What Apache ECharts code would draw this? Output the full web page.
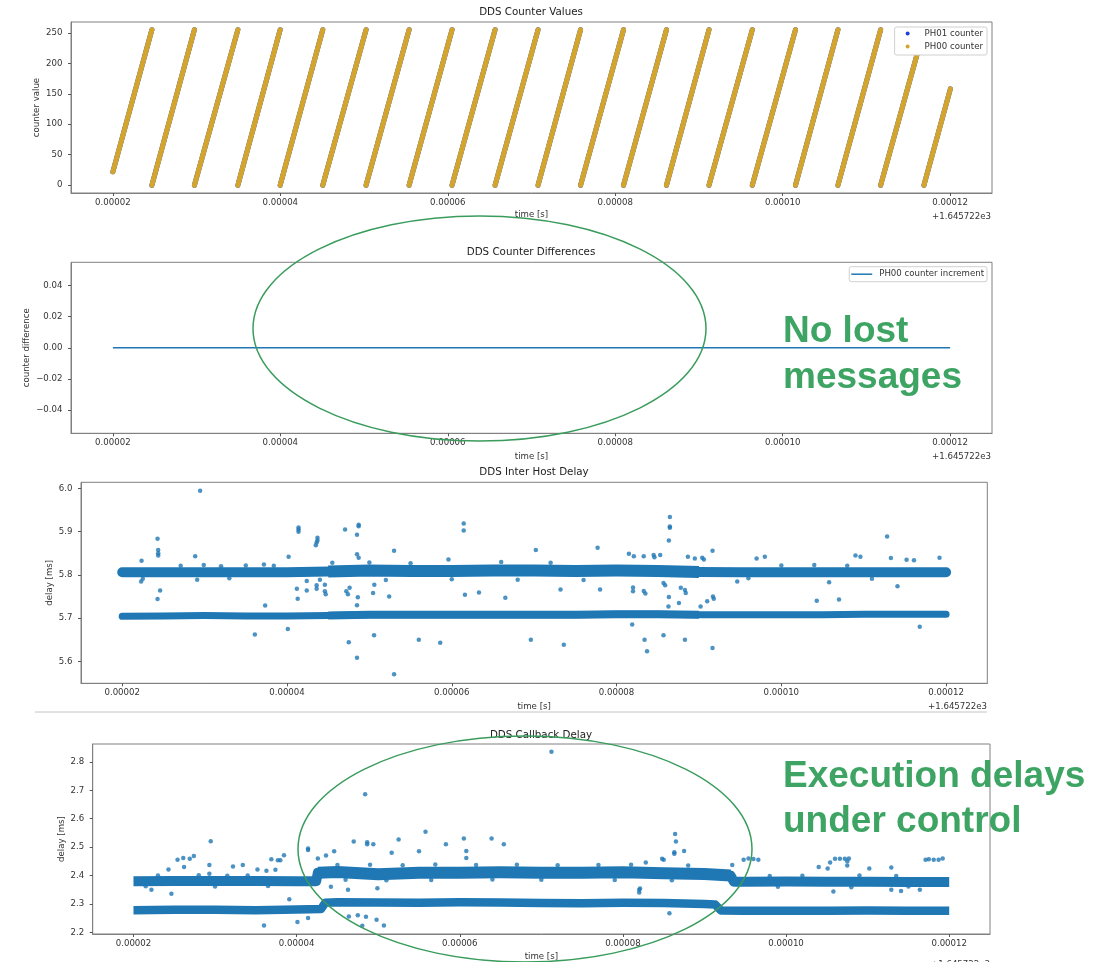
<!DOCTYPE html>
<html>
<head>
<meta charset="utf-8">
<script src="https://cdn.jsdelivr.net/npm/echarts@6/dist/echarts.min.js"></script>
<style>
  html, body { margin: 0; padding: 0; background: #ffffff; }
  #chart { width: 1102px; height: 962px; }
</style>
</head>
<body>
<div id="chart"></div>
<script>
// ---- data (time is the offset from 1.645722e3 s, stored in microseconds) ----
const xTicksUs = [20, 40, 60, 80, 100, 120];
const counterTicks = [0, 50, 100, 150, 200, 250];
const diffTicks = [-0.04, -0.02, 0, 0.02, 0.04];
const interHostTicks = [5.6, 5.7, 5.8, 5.9, 6.0];
const callbackTicks = [2.2, 2.3, 2.4, 2.5, 2.6, 2.7, 2.8];

// counter ramps (0..255 wrap-around)
const rampStartUs = [20.0, 24.66, 29.74, 34.93, 39.98, 45.07, 50.24, 55.38, 60.51, 65.65, 70.78, 75.86, 80.99, 86.12, 91.20, 96.37, 101.53, 106.60, 111.70, 116.87];
const rampEndUs   = [24.66, 29.74, 34.93, 39.98, 45.07, 50.24, 55.38, 60.51, 65.65, 70.78, 75.86, 80.99, 86.12, 91.20, 96.37, 101.53, 106.60, 111.70, 116.87, 120.03];
const rampStartCount = [22, 0, 0, 0, 0, 0, 0, 0, 0, 0, 0, 0, 0, 0, 0, 0, 0, 0, 0, 0];
const rampEndCount   = [255, 255, 255, 255, 255, 255, 255, 255, 255, 255, 255, 255, 255, 255, 255, 255, 255, 255, 255, 158];

// counter increment differences
const diffTimesUs = [20, 40, 60, 80, 100, 120];
const diffValues  = [0, 0, 0, 0, 0, 0];

// inter host delay: two dense bands + scattered samples
const ihBandT = [20, 25, 30, 35, 40, 45, 50, 55, 60, 65, 70, 75, 80, 85, 90, 95, 100, 105, 110, 115, 120];
const ihUpperV = [5.806, 5.806, 5.806, 5.806, 5.806, 5.808, 5.810, 5.809, 5.809, 5.810, 5.810, 5.809, 5.810, 5.809, 5.807, 5.806, 5.806, 5.806, 5.806, 5.806, 5.806];
const ihLowerV = [5.704, 5.705, 5.706, 5.705, 5.705, 5.706, 5.708, 5.708, 5.708, 5.708, 5.708, 5.708, 5.709, 5.709, 5.708, 5.708, 5.708, 5.708, 5.709, 5.709, 5.709];
const ihOutT = [29.46, 24.29, 24.37, 24.37, 24.37, 24.6, 24.29, 22.35, 22.3, 28.86, 29.1, 36.1, 37.35, 41.2, 40.1, 40.2, 41.4, 41.4, 41.4, 41.3, 42.4, 42.4, 43.7, 43.7, 43.6, 43.5, 43.6, 43.6, 44.6, 44.6, 44.7, 47.05, 47.5, 48.5, 48.7, 48.7, 48.5, 47.2, 47.4, 47.6, 48.5, 48.7, 48.6, 48.5, 50.45, 50.57, 53.0, 50.6, 52.4, 53.0,
  61.45, 61.45, 59.6, 70.2, 77.7, 56.0, 58.6, 73.6, 69.6, 63.3, 66.5, 73.2, 78.0, 61.6,
  86.47, 86.47, 86.47, 86.35, 112.84, 81.5, 82.1, 83.3, 84.5, 84.6, 85.3, 88.66, 89.5, 90.4, 90.6, 91.65, 98.0, 97.0, 109.0, 109.6, 113.3, 115.2, 116.1, 119.2, 105.8, 114.1, 94.65, 104.3, 107.0, 82.0, 82.0, 83.3, 83.5, 85.7, 85.9, 86.35, 87.8, 88.3, 88.4, 87.57, 91.0, 91.7, 91.8, 81.9, 83.4, 83.7, 85.7, 88.3, 91.65, 116.8, 90.2, 86.3,
  27.1, 29.9, 32.0, 35.0, 37.2, 38.4, 45.5, 50.0, 55.0, 66.0, 72.0, 100.0, 104.0, 108.0, 22.5, 33.0, 44.0, 52.0, 60.0, 68.0, 76.0, 96.0, 111.0];
const ihOutV = [5.995, 5.884, 5.858, 5.850, 5.845, 5.764, 5.744, 5.833, 5.785, 5.843, 5.789, 5.662, 5.729, 5.768, 5.675, 5.842, 5.905, 5.900, 5.910, 5.745, 5.786, 5.764, 5.886, 5.880, 5.875, 5.869, 5.776, 5.768, 5.777, 5.762, 5.755, 5.905, 5.644, 5.608, 5.916, 5.913, 5.893, 5.762, 5.755, 5.770, 5.848, 5.840, 5.748, 5.730, 5.758, 5.660, 5.570, 5.777, 5.750, 5.856,
  5.919, 5.903, 5.836, 5.858, 5.863, 5.650, 5.643, 5.638, 5.650, 5.759, 5.747, 5.766, 5.766, 5.754,
  5.934, 5.912, 5.909, 5.880, 5.889, 5.849, 5.843, 5.843, 5.846, 5.841, 5.846, 5.842, 5.838, 5.840, 5.836, 5.856, 5.842, 5.838, 5.845, 5.842, 5.839, 5.835, 5.834, 5.840, 5.783, 5.774, 5.785, 5.740, 5.743, 5.771, 5.762, 5.763, 5.757, 5.781, 5.776, 5.749, 5.770, 5.765, 5.758, 5.735, 5.739, 5.750, 5.745, 5.685, 5.650, 5.623, 5.660, 5.650, 5.631, 5.680, 5.727, 5.727,
  5.821, 5.823, 5.820, 5.822, 5.824, 5.821, 5.828, 5.829, 5.827, 5.830, 5.828, 5.822, 5.823, 5.821, 5.791, 5.792, 5.789, 5.788, 5.790, 5.789, 5.788, 5.792, 5.791];

// callback delay: two dense bands (stepping up between ~42 and ~93 us) + scattered samples
const cbUpperT = [20, 25, 30, 35, 40, 42.4, 42.6, 45, 50, 55, 60, 65, 70, 75, 80, 85, 90, 93.2, 93.6, 95, 100, 105, 110, 115, 120];
const cbUpperV = [2.380, 2.381, 2.381, 2.381, 2.380, 2.380, 2.410, 2.412, 2.404, 2.410, 2.410, 2.411, 2.410, 2.410, 2.411, 2.408, 2.405, 2.400, 2.378, 2.378, 2.379, 2.378, 2.378, 2.377, 2.377];
const cbLowerT = [20, 25, 30, 35, 40, 43, 43.5, 45, 50, 55, 60, 65, 70, 75, 80, 85, 90, 91.3, 92, 95, 100, 105, 110, 115, 120];
const cbLowerV = [2.278, 2.279, 2.279, 2.278, 2.280, 2.282, 2.304, 2.306, 2.305, 2.304, 2.306, 2.305, 2.303, 2.302, 2.304, 2.303, 2.300, 2.298, 2.277, 2.276, 2.276, 2.276, 2.277, 2.276, 2.276];
const cbOutT = [29.47, 24.29, 25.4, 26.1, 26.9, 27.4, 26.2, 24.65, 22.2, 29.3, 29.3, 32.2, 33.4, 35.2, 36.3, 36.9, 37.7, 38.0, 37.4, 38.45, 36.0, 40.1, 39.1, 41.4, 41.4, 42.6, 43.6, 44.6, 47.0, 48.65, 48.65, 49.4, 48.4, 51.65, 50.7, 48.5, 47.5, 41.4, 49.9, 46.3, 44.2,
  71.24, 55.8, 52.5, 60.5, 63.9, 60.8, 60.8, 65.4, 55.0, 58.3,
  86.4, 86.5, 87.5, 86.3, 86.3, 84.8, 85.0, 82.8, 94.8, 95.4, 96.0, 96.6, 93.4, 105.4, 106.0, 106.6, 107.2, 107.7, 107.5, 107.5, 104.0, 105.1, 110.2, 112.9, 117.1, 117.5, 118.1, 118.7, 119.2, 105.8, 112.9, 114.1, 116.4, 82.1, 82.0, 82.0, 85.7, 46.4, 48.05, 49.8,
  23.0, 28.0, 31.5, 34.0, 45.0, 49.0, 53.0, 57.0, 62.0, 67.0, 72.0, 77.0, 81.0, 88.0, 98.0, 102.0, 109.0, 113.5, 21.5, 30.0, 36.5, 46.0, 51.0, 56.5, 64.0, 70.0, 79.0, 86.0, 99.0, 108.0, 115.0];
const cbOutV = [2.521, 2.421, 2.455, 2.462, 2.459, 2.469, 2.430, 2.336, 2.350, 2.437, 2.406, 2.432, 2.437, 2.421, 2.417, 2.457, 2.454, 2.454, 2.420, 2.471, 2.224, 2.236, 2.316, 2.495, 2.490, 2.460, 2.470, 2.485, 2.520, 2.517, 2.510, 2.510, 2.686, 2.480, 2.224, 2.255, 2.260, 2.250, 2.355, 2.350, 2.360,
  2.836, 2.554, 2.527, 2.530, 2.530, 2.486, 2.462, 2.510, 2.485, 2.510,
  2.546, 2.520, 2.486, 2.482, 2.477, 2.459, 2.455, 2.446, 2.455, 2.460, 2.458, 2.455, 2.437, 2.446, 2.459, 2.459, 2.459, 2.460, 2.450, 2.435, 2.430, 2.425, 2.425, 2.428, 2.455, 2.457, 2.455, 2.455, 2.460, 2.344, 2.350, 2.345, 2.350, 2.354, 2.350, 2.340, 2.267, 2.256, 2.223, 2.244,
  2.400, 2.401, 2.399, 2.400, 2.437, 2.438, 2.436, 2.439, 2.437, 2.438, 2.436, 2.437, 2.438, 2.435, 2.398, 2.399, 2.400, 2.398, 2.362, 2.361, 2.363, 2.385, 2.383, 2.384, 2.386, 2.385, 2.384, 2.383, 2.360, 2.359, 2.361];

// ---- helpers ----
const FONT = '"DejaVu Sans", sans-serif';
const BLUE = '#1f77b4';
const GOLD = '#d4a52c';
const GREEN = '#3ea463';
const pairs = (t, v) => t.map((x, i) => [x, v[i]]);
const within = (arr, a, b) => arr.filter(p => p[0] >= a && p[0] <= b);

const rampData = [];
rampStartUs.forEach((t, i) => {
  rampData.push([t, rampStartCount[i]], [rampEndUs[i], rampEndCount[i]], ['-', '-']);
});

const grids = [
  { left: 71, top: 22, width: 921, height: 171 },
  { left: 71, top: 262.3, width: 921, height: 171 },
  { left: 81, top: 482.3, width: 906.3, height: 201 },
  { left: 92.7, top: 744, width: 897.3, height: 196.7 }
].map(g => Object.assign(g, { show: true, borderColor: '#808080', borderWidth: 1, backgroundColor: '#fff' }));

function makeX(gi, nameGap) {
  return {
    type: 'value', gridIndex: gi, min: 15, max: 125,
    name: 'time [s]', nameLocation: 'middle', nameGap: nameGap, nameMoveOverlap: false,
    nameTextStyle: { fontFamily: FONT, fontSize: 8.6, color: '#333' },
    axisLine: { show: true, onZero: false, lineStyle: { color: '#808080' } },
    axisTick: { show: true, length: 3, customValues: xTicksUs, lineStyle: { color: '#555' } },
    axisLabel: { customValues: xTicksUs, margin: 5, fontFamily: FONT, fontSize: 8.6, color: '#333',
      formatter: v => (v / 1e6).toFixed(5) },
    splitLine: { show: false }
  };
}
function makeY(gi, min, max, ticks, fmt, name, nameGap) {
  return {
    type: 'value', gridIndex: gi, min: min, max: max,
    name: name, nameLocation: 'middle', nameGap: nameGap, nameMoveOverlap: false,
    nameTextStyle: { fontFamily: FONT, fontSize: 8.6, color: '#333' },
    axisLine: { show: true, onZero: false, lineStyle: { color: '#808080' } },
    axisTick: { show: true, length: 3, customValues: ticks, lineStyle: { color: '#555' } },
    axisLabel: { customValues: ticks, margin: 8.5, fontFamily: FONT, fontSize: 8.6, color: '#333', formatter: fmt },
    splitLine: { show: false }
  };
}
function band(gi, data, width, cap) {
  return {
    type: 'line', xAxisIndex: gi, yAxisIndex: gi, data: data, symbol: 'none', silent: true,
    lineStyle: { color: BLUE, width: width, cap: cap || 'round', join: 'round' }, z: 2
  };
}
function dots(gi, data) {
  return {
    type: 'scatter', xAxisIndex: gi, yAxisIndex: gi, data: data, symbol: 'circle', symbolSize: 4.5,
    itemStyle: { color: BLUE }, silent: true, z: 3
  };
}

const ihUpper = pairs(ihBandT, ihUpperV);
const ihLower = pairs(ihBandT, ihLowerV);
const cbUpper = pairs(cbUpperT, cbUpperV);
const cbLower = pairs(cbLowerT, cbLowerV);

const titleText = (text, x, y) => ({
  type: 'text', style: { text: text, x: x, y: y, fill: '#222', font: '10.3px ' + FONT,
    textAlign: 'center', textVerticalAlign: 'middle' }, z: 50
});
const offsetText = (x, y) => ({
  type: 'text', style: { text: '+1.645722e3', x: x, y: y, fill: '#333', font: '8.6px ' + FONT,
    textAlign: 'right', textVerticalAlign: 'middle' }, z: 50
});
const note = (text, x, y) => ({
  type: 'text', style: { text: text, x: x, y: y, fill: GREEN, font: 'bold 37px "Liberation Sans", Arial, sans-serif',
    textAlign: 'left', textVerticalAlign: 'middle' }, z: 120
});

const option = {
  animation: false,
  backgroundColor: '#ffffff',
  grid: grids,
  xAxis: [makeX(0, 17.5), makeX(1, 18.5), makeX(2, 19), makeX(3, 18)],
  yAxis: [
    makeY(0, -12.75, 267.75, counterTicks, v => String(Math.round(v)), 'counter value', 29.5),
    makeY(1, -0.055, 0.055, diffTicks, v => v.toFixed(2).replace('-', '\u2212'), 'counter difference', 39.5),
    makeY(2, 5.549, 6.0145, interHostTicks, v => v.toFixed(1), 'delay [ms]', 26.5),
    makeY(3, 2.194, 2.863, callbackTicks, v => v.toFixed(1), 'delay [ms]', 26)
  ],
  legend: [
    {
      data: [{ name: 'PH01 counter', icon: 'circle' }, { name: 'PH00 counter', icon: 'circle' }],
      orient: 'vertical', right: 115, top: 27, itemWidth: 4, itemHeight: 4, itemGap: 4,
      padding: [2, 4, 4, 11], borderColor: '#d0d0d0', borderWidth: 1, borderRadius: 2,
      backgroundColor: '#fff', selectedMode: false,
      textStyle: { fontFamily: FONT, fontSize: 8.6, color: '#333', padding: [0, 0, 0, 10] }
    },
    {
      data: [{ name: 'PH00 counter increment', icon: 'rect' }],
      orient: 'vertical', right: 115, top: 266.7, itemWidth: 21, itemHeight: 1.5,
      padding: [3, 3, 3, 2], borderColor: '#d0d0d0', borderWidth: 1, borderRadius: 2,
      backgroundColor: '#fff', selectedMode: false,
      textStyle: { fontFamily: FONT, fontSize: 8.6, color: '#333', padding: [0, 0, 0, 2] }
    }
  ],
  series: [
    { name: 'PH01 counter', type: 'line', xAxisIndex: 0, yAxisIndex: 0, data: rampData, symbol: 'none',
      color: '#1f3fd8', lineStyle: { color: '#1f3fd8', width: 5, cap: 'round' }, silent: true },
    { name: 'PH00 counter', type: 'line', xAxisIndex: 0, yAxisIndex: 0, data: rampData, symbol: 'none',
      color: GOLD, lineStyle: { color: GOLD, width: 5, cap: 'round' }, silent: true },
    { name: 'PH00 counter increment', type: 'line', xAxisIndex: 1, yAxisIndex: 1,
      data: pairs(diffTimesUs, diffValues), symbol: 'none', color: BLUE,
      lineStyle: { color: BLUE, width: 1.5 }, silent: true },

    band(2, ihUpper, 10), band(2, within(ihUpper, 45, 92), 12, 'butt'),
    band(2, ihLower, 7), band(2, within(ihLower, 45, 92), 8, 'butt'),
    dots(2, pairs(ihOutT, ihOutV)),

    band(3, cbUpper, 10, 'butt'), band(3, within(cbUpper, 42.6, 93.2), 12, 'butt'),
    band(3, cbLower, 8.5, 'butt'),
    dots(3, pairs(cbOutT, cbOutV))
  ],
  graphic: {
    elements: [
      titleText('DDS Counter Values', 531, 12.5),
      titleText('DDS Counter Differences', 531, 252.5),
      titleText('DDS Inter Host Delay', 534, 472),
      titleText('DDS Callback Delay', 541, 735),
      offsetText(991, 216.7),
      offsetText(991, 456.7),
      offsetText(987, 707),
      offsetText(990, 965),
      { type: 'line', shape: { x1: 35, y1: 712, x2: 987, y2: 712 }, style: { stroke: '#c4c4c4', lineWidth: 1 }, z: 40 },
      { type: 'ellipse', shape: { cx: 479.5, cy: 328.5, rx: 226.5, ry: 112.5 },
        style: { fill: 'none', stroke: '#3a9c5c', lineWidth: 1.5 }, z: 110 },
      { type: 'ellipse', shape: { cx: 525, cy: 849, rx: 227, ry: 113 },
        style: { fill: 'none', stroke: '#3a9c5c', lineWidth: 1.5 }, z: 110 },
      note('No lost', 783, 332),
      note('messages', 783, 377.5),
      note('Execution delays', 783, 777),
      note('under control', 783, 822)
    ]
  }
};

const chart = echarts.init(document.getElementById('chart'), null, { renderer: 'canvas' });
chart.setOption(option);
</script>
</body>
</html>
